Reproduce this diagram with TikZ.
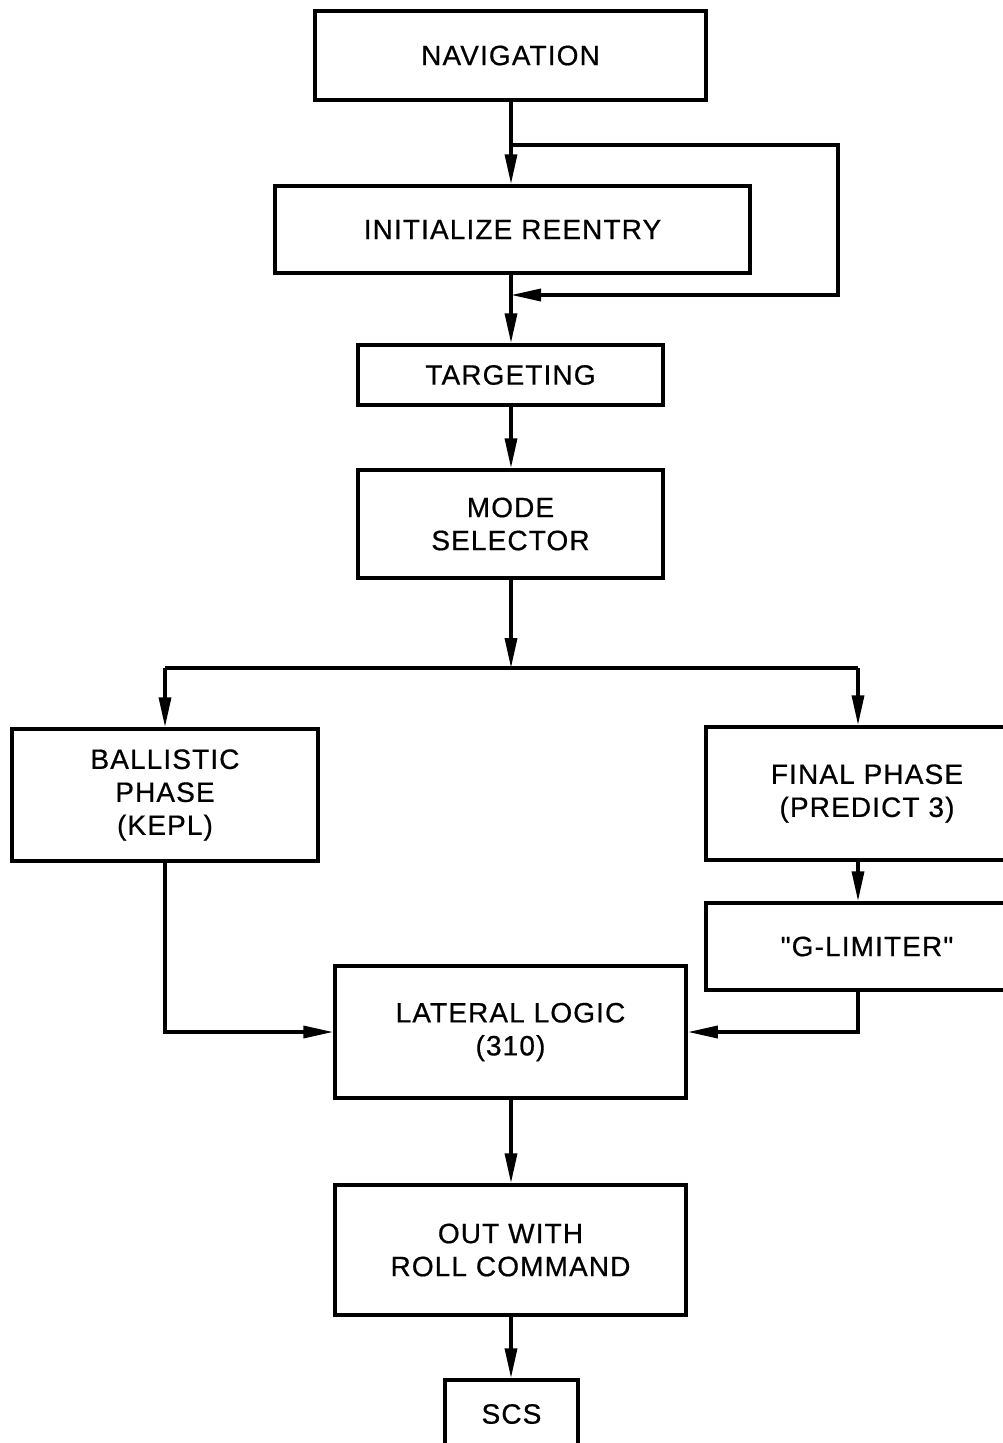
\documentclass[tikz,border=0pt]{standalone}
\usepackage{fontspec}
\setmainfont{Liberation Sans}[Ligatures=TeXOff,LetterSpace=4,FakeBold=0.6]
\usetikzlibrary{arrows.meta}
\begin{document}
\begin{tikzpicture}[x=1pt,y=-1pt,
  box/.style={draw, line width=3.5pt, inner sep=0pt, align=center,
    font=\fontsize{28}{33}\selectfont, text=black},
  conn/.style={line width=3.5pt},
  arr/.style={conn, -{Triangle[length=30pt,width=12pt]}}]
\useasboundingbox (0,0) rectangle (1003,1443);
\clip (0,0) rectangle (1003,1443);
\fill[white] (0,0) rectangle (1003,1443);
\node[box, minimum width=391pt, minimum height=89pt] (nav) at (510.5,55.5) {NAVIGATION};
\node[box, minimum width=475pt, minimum height=87pt] (init) at (512.5,229.5) {INITIALIZE REENTRY};
\node[box, minimum width=305pt, minimum height=60pt] (targ) at (510.5,375) {TARGETING};
\node[box, minimum width=305pt, minimum height=108pt] (mode) at (510.5,524) {MODE\\SELECTOR};
\node[box, minimum width=306pt, minimum height=132pt] (ball) at (165,795) {BALLISTIC\\PHASE\\(KEPL)};
\node[box, minimum width=322pt, minimum height=133pt] (final) at (867,793.5) {FINAL PHASE\\(PREDICT 3)};
\node[box, minimum width=322pt, minimum height=87pt] (glim) at (867,946.5) {"G-LIMITER"};
\node[box, minimum width=351pt, minimum height=132pt] (lat) at (510.5,1032) {LATERAL LOGIC\\(310)};
\node[box, minimum width=351pt, minimum height=130pt] (out) at (510.5,1250) {OUT WITH\\ROLL COMMAND};
\node[box, minimum width=133pt, minimum height=68pt] (scs) at (511.5,1414) {SCS};

\coordinate (lp1) at (511,145);
\coordinate (lp2) at (838,145);
\coordinate (lp3) at (838,295);
\coordinate (lp4) at (511,295);
\coordinate (jn) at (511,668);
\coordinate (jl) at (165,668);
\coordinate (jr) at (858,668);

\draw[arr] (nav.south -| lp1) -- (init.north -| lp1);
\draw[conn] (lp1) -- (lp2) -- (lp3) -- (lp4 -| 560,0);
\draw[arr] (lp3) -- (lp4);
\draw[arr] (init.south -| lp1) -- (targ.north -| lp1);
\draw[arr] (targ.south -| lp1) -- (mode.north -| lp1);
\draw[arr] (mode.south -| jn) -- (jn);
\draw[conn] (jl) -- (jr);
\draw[arr] (jl) -- (ball.north);
\draw[arr] (jr) -- (final.north -| jr);
\draw[arr] (final.south -| jr) -- (glim.north -| jr);
\draw[arr] (ball.south) |- (lat.west);
\draw[arr] (glim.south -| jr) |- (lat.east);
\draw[arr] (lat.south -| lp1) -- (out.north -| lp1);
\draw[arr] (out.south -| lp1) -- (scs.north -| lp1);
\end{tikzpicture}
\end{document}
